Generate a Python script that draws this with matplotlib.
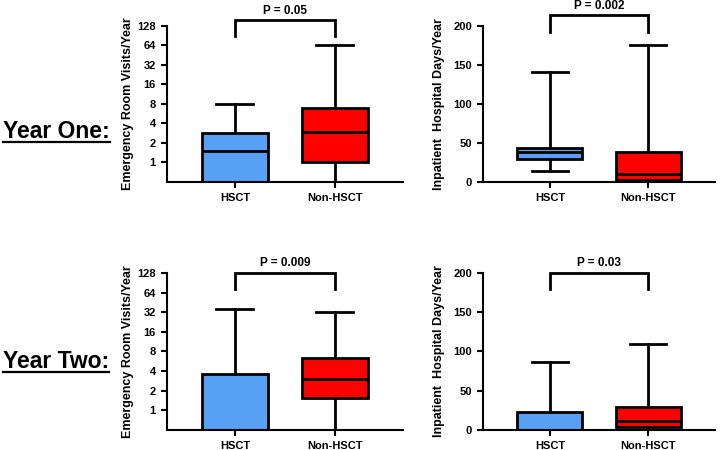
import matplotlib
matplotlib.use("Agg")
import matplotlib.pyplot as plt
import numpy as np

plt.rcParams['font.family'] = ['Liberation Sans', 'DejaVu Sans']

groups = ["HSCT", "Non-HSCT"]
colors = ["#58a0f4", "#ff0000"]

# Emergency room visits/year (log2 axis); stats: whislo, q1, med, q3, whishi
er_y1_hsct = [0, 0, 1.5, 2.9, 8]
er_y1_non = [0, 1.0, 3.0, 6.9, 64]
er_y2_hsct = [0, 0, 0, 3.6, 36]
er_y2_non = [0, 1.55, 3.0, 6.3, 32]

# Inpatient hospital days/year
ip_y1_hsct = [14.5, 29.5, 38, 44, 141]
ip_y1_non = [0, 3, 10, 39, 176]
ip_y2_hsct = [0, 0, 0, 22.5, 87]
ip_y2_non = [0, 3.5, 12, 29.5, 110]

p_values = ["P = 0.05", "P = 0.002", "P = 0.009", "P = 0.03"]
row_labels = ["Year One:", "Year Two:"]
er_label = "Emergency Room Visits/Year"
ip_label = "Inpatient  Hospital Days/Year"
log_ticks = [1, 2, 4, 8, 16, 32, 64, 128]
lin_ticks = [0, 50, 100, 150, 200]
LOG_FLOOR = 0.5

fig = plt.figure(figsize=(7.21, 4.5), dpi=100)

def make_stats(vals, floor=None):
    v = list(vals)
    if floor is not None:
        v = [max(x, floor) for x in v]
    return dict(whislo=v[0], q1=v[1], med=v[2], q3=v[3], whishi=v[4], fliers=[])

def draw(rect, data, log, ylabel, ptext, br_top, br_bot, ptxt_y, label_x):
    ax = fig.add_axes(rect)
    floor = LOG_FLOOR if log else None
    stats = [make_stats(d, floor) for d in data]
    lw = 2.0
    bp = ax.bxp(stats, positions=[0, 1], widths=0.66, patch_artist=True,
                showfliers=False, capwidths=0.37,
                boxprops=dict(linewidth=lw, edgecolor='black'),
                medianprops=dict(color='black', linewidth=lw),
                whiskerprops=dict(color='black', linewidth=lw),
                capprops=dict(color='black', linewidth=lw))
    for patch, c in zip(bp['boxes'], colors):
        patch.set_facecolor(c)
    if log:
        ax.set_yscale('log', base=2)
        ax.set_ylim(LOG_FLOOR, 128)
        ax.set_yticks(log_ticks)
        ax.set_yticklabels([str(t) for t in log_ticks])
        ax.yaxis.set_minor_locator(matplotlib.ticker.NullLocator())
    else:
        ax.set_ylim(0, 200)
        ax.set_yticks(lin_ticks)
        ax.set_yticklabels([str(t) for t in lin_ticks])
    ax.set_xlim(-0.68, 1.68)
    ax.set_xticks([0, 1])
    ax.set_xticklabels(groups, fontsize=8, fontweight='bold')
    for lab in ax.get_yticklabels():
        lab.set_fontweight('bold')
        lab.set_fontsize(8)
    ax.tick_params(axis='both', width=1.5, length=4, pad=4)
    ax.tick_params(axis='x', pad=4)
    for s in ['top', 'right']:
        ax.spines[s].set_visible(False)
    for s in ['left', 'bottom']:
        ax.spines[s].set_linewidth(1.5)
    ax.set_ylabel(ylabel, fontsize=9, fontweight='bold')
    ax.yaxis.set_label_coords(label_x, 0.5)
    tr = ax.get_xaxis_transform()
    ax.plot([0, 0, 1, 1], [br_bot, br_top, br_top, br_bot], color='black',
            lw=2.0, transform=tr, clip_on=False, solid_joinstyle='miter')
    ax.text(0.5, ptxt_y, ptext, transform=tr, ha='center', va='center',
            fontsize=8.5, fontweight='bold')
    return ax

top_b, top_h = 0.5956, 0.3467
bot_b, bot_h = 0.0444, 0.349
lx, lw_ = 0.2316, 0.3273
rx, rw = 0.6699, 0.3218

draw([lx, top_b, lw_, top_h], [er_y1_hsct, er_y1_non], True, er_label,
     p_values[0], 1.038, 0.936, 1.098, -0.138)
draw([rx, top_b, rw, top_h], [ip_y1_hsct, ip_y1_non], False, ip_label,
     p_values[1], 1.07, 0.96, 1.128, -0.165)
draw([lx, bot_b, lw_, bot_h], [er_y2_hsct, er_y2_non], True, er_label,
     p_values[2], 1.0, 0.898, 1.064, -0.138)
draw([rx, bot_b, rw, bot_h], [ip_y2_hsct, ip_y2_non], False, ip_label,
     p_values[3], 1.0, 0.898, 1.064, -0.165)

texts = []
for lab, yc in zip(row_labels, [132, 362]):
    t = fig.text(3 / 721, 1 - yc / 450, lab, fontsize=16.5, fontweight='bold',
                 ha='left', va='center')
    texts.append(t)

fig.canvas.draw()
renderer = fig.canvas.get_renderer()
inv = fig.transFigure.inverted()
for t in texts:
    bb = t.get_window_extent(renderer)
    (x0, y0), (x1, y1) = inv.transform([[bb.x0, bb.y0], [bb.x1, bb.y1]])
    yline = y0 + 0.004
    fig.add_artist(matplotlib.lines.Line2D([x0, x1], [yline, yline],
                                           transform=fig.transFigure,
                                           color='black', lw=1.6))

fig.savefig("out.png", dpi=100)
